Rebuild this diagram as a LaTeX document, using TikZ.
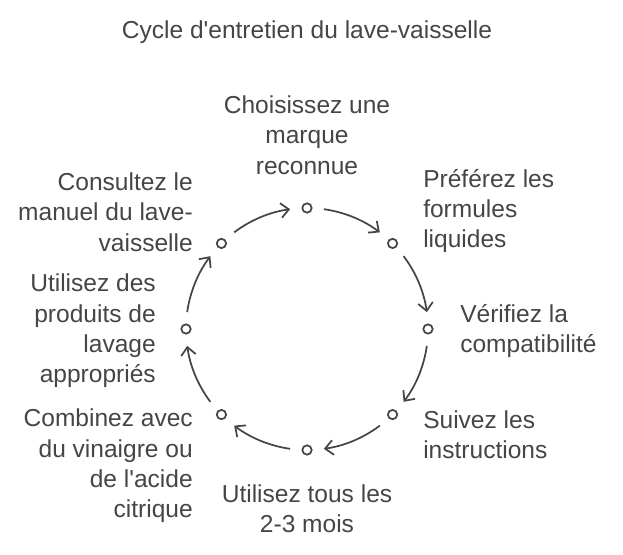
\documentclass[tikz,border=0pt]{standalone}
\usepackage{fontspec}
\setmainfont{Liberation Sans}
\usetikzlibrary{arrows.meta}
\definecolor{ink}{HTML}{454545}
\tikzset{
  dot/.style={circle,draw=ink,line width=1.3pt,fill=white,inner sep=0pt,minimum size=7pt},
  lab/.style={text=ink,font=\fontsize{18.4}{22.8}\selectfont,inner sep=0pt},
  cyc/.style={draw=ink,line width=1.3pt,-{Straight Barb[length=6pt,width=11pt,line width=1.3pt]}}
}
\begin{document}
\begin{tikzpicture}[x=0.75pt,y=-0.75pt]
  \useasboundingbox (0,0) rectangle (623,555);
  \coordinate (c) at (307,329);
  \node[lab,font=\fontsize{18.4}{22}\selectfont] (title) at (307,32) {Cycle d\textquotesingle entretien du lave-vaisselle};
  % arcs
  \foreach \a in {90,45,0,-45,-90,-135,180,135}
    \draw[cyc] (c) ++(\a+8:121) arc[start angle=\a+8, end angle=\a+37, radius=121];
  % dots
  \foreach \a/\n in {-90/s1,-45/s2,0/s3,45/s4,90/s5,135/s6,180/s7,-135/s8}
    \node[dot] (\n) at ([shift={(\a:121)}]c) {};
  % labels
  \node[lab,align=center] (t1) at (307,135) {Choisissez une\\marque\\reconnue};
  \node[lab,align=left,anchor=west] (t2) at (423,211) {Préférez les\\formules\\liquides};
  \node[lab,align=left,anchor=west] (t3) at (460,331) {Vérifiez la\\compatibilité};
  \node[lab,align=left,anchor=west] (t4) at (423,435) {Suivez les\\instructions};
  \node[lab,align=center] (t5) at (307,509) {Utilisez tous les\\2-3 mois};
  \node[lab,align=right,anchor=east] (t6) at (193,466) {Combinez avec\\du vinaigre ou\\de l\textquotesingle acide\\citrique};
  \node[lab,align=right,anchor=east] (t7) at (156,331) {Utilisez des\\produits de\\lavage\\appropriés};
  \node[lab,align=right,anchor=east] (t8) at (193,212) {Consultez le\\manuel du lave-\\vaisselle};
\end{tikzpicture}
\end{document}
